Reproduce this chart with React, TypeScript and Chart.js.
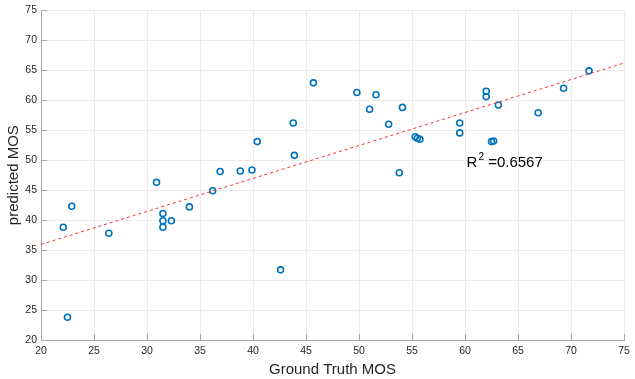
import React, { useEffect, useRef } from "react";
import { Chart, registerables } from "chart.js";

Chart.register(...registerables);

const groundTruth = [
  30.9, 45.7, 43.8, 40.4, 43.9, 36.9, 38.8, 39.9, 36.2,
  49.8, 51.6, 51.0, 54.1, 52.8, 55.3, 55.5, 55.75, 53.8,
  59.5, 59.5, 62.0, 62.0, 63.15, 62.5, 62.7, 66.9, 69.3, 71.7,
  22.9, 22.1, 26.4, 31.5, 31.5, 31.5, 32.3, 34.0, 42.6, 22.5,
];
const predicted = [
  46.3, 62.9, 56.2, 53.1, 50.8, 48.1, 48.2, 48.35, 44.9,
  61.3, 60.9, 58.5, 58.8, 56.0, 53.9, 53.65, 53.5, 47.9,
  56.2, 54.55, 61.5, 60.6, 59.2, 53.1, 53.2, 57.9, 62.0, 64.9,
  42.3, 38.8, 37.8, 41.1, 39.9, 38.8, 39.9, 42.2, 31.7, 23.8,
];
const fitX = [20, 75];
const fitY = [35.95, 66.2];
const tickValues = [20, 25, 30, 35, 40, 45, 50, 55, 60, 65, 70, 75];
const r2Label = "0.6567";

export default function App() {
  const ref = useRef<HTMLCanvasElement | null>(null);
  useEffect(() => {
    document.body.style.margin = "0";
    const canvas = ref.current!;
    const innerTicks = {
      id: "innerTicks",
      afterDraw(chart: any) {
        const ctx = chart.ctx;
        const xs = chart.scales.x;
        const ys = chart.scales.y;
        const a = chart.chartArea;
        ctx.save();
        ctx.strokeStyle = "#a6a6a6";
        ctx.lineWidth = 1;
        ctx.beginPath();
        tickValues.forEach((v) => {
          const px = Math.round(xs.getPixelForValue(v)) + 0.5;
          ctx.moveTo(px, a.bottom);
          ctx.lineTo(px, a.bottom - 6);
          const py = Math.round(ys.getPixelForValue(v)) + 0.5;
          ctx.moveTo(a.left, py);
          ctx.lineTo(a.left + 6, py);
        });
        ctx.stroke();
        // annotation
        const tx = xs.getPixelForValue(60.15);
        const ty = ys.getPixelForValue(48.8);
        ctx.fillStyle = "#000";
        ctx.textBaseline = "alphabetic";
        ctx.font = "15px 'Liberation Sans', Arial, sans-serif";
        ctx.fillText("R", tx, ty);
        let w = ctx.measureText("R").width;
        ctx.font = "10px 'Liberation Sans', Arial, sans-serif";
        ctx.fillText("2", tx + w + 1, ty - 7);
        w += ctx.measureText("2").width + 1;
        ctx.font = "15px 'Liberation Sans', Arial, sans-serif";
        ctx.fillText(" =" + r2Label, tx + w, ty);
        ctx.restore();
      },
    };
    const chart = new Chart(canvas, {
      type: "scatter",
      data: {
        datasets: [
          {
            type: "line",
            data: fitX.map((x, i) => ({ x, y: fitY[i] })),
            borderColor: "#ff3030",
            borderWidth: 1,
            borderDash: [3, 3],
            pointRadius: 0,
            fill: false,
          } as any,
          {
            data: groundTruth.map((x, i) => ({ x, y: predicted[i] })),
            pointStyle: "circle",
            pointRadius: 3,
            pointBorderWidth: 1.6,
            borderColor: "#0072BD",
            backgroundColor: "rgba(0,0,0,0)",
            showLine: false,
          },
        ],
      },
      plugins: [innerTicks],
      options: {
        responsive: false,
        animation: false,
        layout: { padding: { top: 9, right: 11, left: 0, bottom: 0 } },
        plugins: { legend: { display: false }, tooltip: { enabled: false } },
        scales: {
          x: {
            type: "linear",
            min: 20,
            max: 75,
            afterFit: (s: any) => { s.height = 39; },
            afterBuildTicks: (s: any) => { s.ticks = tickValues.map((v) => ({ value: v })); },
            grid: { color: "#ebebeb", drawTicks: false },
            border: { color: "#a6a6a6", width: 1 },
            ticks: {
              padding: 5,
              color: "#262626",
              font: { family: "'Liberation Sans', Arial, sans-serif", size: 10.5 },
            },
            title: {
              display: true,
              text: "Ground Truth MOS",
              color: "#262626",
              padding: { top: 0, bottom: 0 },
              font: { family: "'Liberation Sans', Arial, sans-serif", size: 15 },
            },
          },
          y: {
            type: "linear",
            min: 20,
            max: 75,
            afterFit: (s: any) => { s.width = 41; },
            afterBuildTicks: (s: any) => { s.ticks = tickValues.map((v) => ({ value: v })); },
            grid: { color: "#ebebeb", drawTicks: false },
            border: { color: "#a6a6a6", width: 1 },
            ticks: {
              padding: 4,
              color: "#262626",
              font: { family: "'Liberation Sans', Arial, sans-serif", size: 10.5 },
            },
            title: {
              display: true,
              text: "predicted MOS",
              color: "#262626",
              padding: { top: 5, bottom: 0 },
              font: { family: "'Liberation Sans', Arial, sans-serif", size: 15 },
            },
          },
        },
      },
    });
    return () => chart.destroy();
  }, []);
  return (
    <div style={{ position: "absolute", left: 0, top: 0, width: 635, height: 379, background: "#fff" }}>
      <canvas ref={ref} width={635} height={379} style={{ display: "block" }} />
    </div>
  );
}
